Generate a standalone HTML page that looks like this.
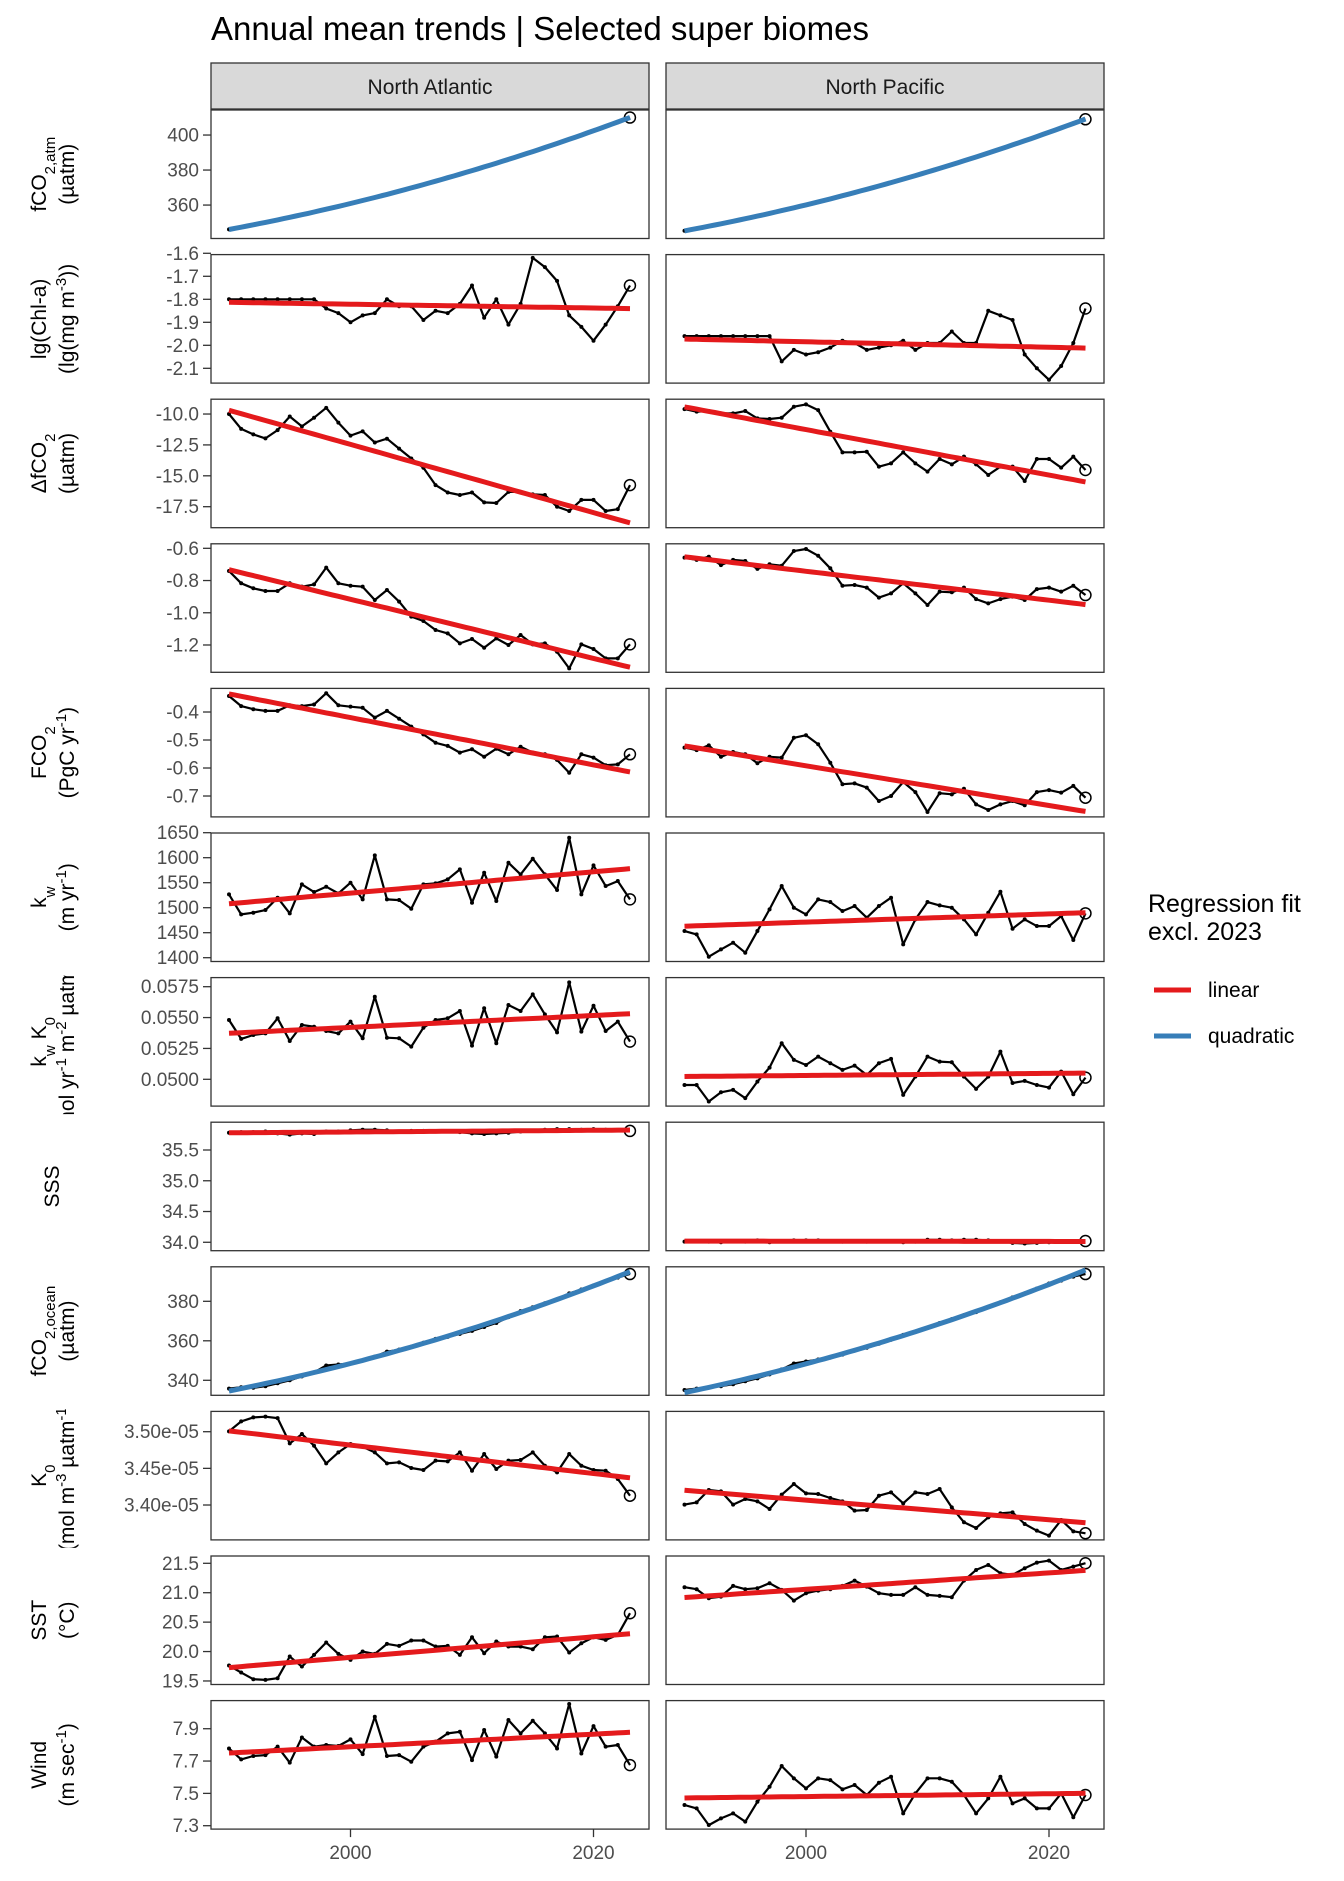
<!DOCTYPE html>
<html><head><meta charset="utf-8"><style>
html,body{margin:0;padding:0;background:#fff;}
svg{display:block;font-family:"Liberation Sans",sans-serif;}
</style></head><body>
<svg id="chart" width="1344" height="1881" xmlns="http://www.w3.org/2000/svg">
<rect width="1344" height="1881" fill="#fff"/>
<text x="211" y="40" font-size="33" fill="#000">Annual mean trends | Selected super biomes</text>
<rect x="211" y="63" width="438" height="46" fill="#d9d9d9" stroke="#333" stroke-width="1.3"/>
<text x="430" y="94" font-size="21" text-anchor="middle" fill="#1a1a1a">North Atlantic</text>
<rect x="666" y="63" width="438" height="46" fill="#d9d9d9" stroke="#333" stroke-width="1.3"/>
<text x="885" y="94" font-size="21" text-anchor="middle" fill="#1a1a1a">North Pacific</text>
<g>
<text x="1148" y="912" font-size="25" fill="#000">Regression fit</text>
<text x="1148" y="940" font-size="25" fill="#000">excl. 2023</text>
<line x1="1154" y1="990" x2="1191" y2="990" stroke="#e41a1c" stroke-width="5"/>
<text x="1208" y="997" font-size="21" fill="#000">linear</text>
<line x1="1154" y1="1036" x2="1191" y2="1036" stroke="#377eb8" stroke-width="5"/>
<text x="1208" y="1043" font-size="21" fill="#000">quadratic</text>
</g>
<defs id="defs"></defs>
</svg>
<script>
const fco2atmNA=[346.1,347.4,348.7,350.1,351.5,353.0,354.5,356.0,357.6,359.2,360.9,362.6,364.3,366.1,367.9,369.8,371.7,373.6,375.6,377.6,379.7,381.8,383.9,386.1,388.3,390.6,392.9,395.2,397.6,400.0,402.4,404.9,407.4,410.0];
const fco2atmNP=[345.3,346.6,347.9,349.3,350.7,352.2,353.7,355.2,356.8,358.4,360.1,361.8,363.5,365.3,367.1,369.0,370.9,372.8,374.8,376.8,378.9,381.0,383.1,385.3,387.5,389.8,392.1,394.4,396.8,399.1,401.5,404.0,406.5,409.0];
const chlNA=[-1.80,-1.80,-1.80,-1.80,-1.80,-1.80,-1.80,-1.80,-1.84,-1.86,-1.90,-1.87,-1.86,-1.80,-1.83,-1.83,-1.89,-1.85,-1.86,-1.82,-1.74,-1.88,-1.80,-1.91,-1.82,-1.62,-1.66,-1.72,-1.87,-1.92,-1.98,-1.91,-1.83,-1.74];
const chlNP=[-1.96,-1.96,-1.96,-1.96,-1.96,-1.96,-1.96,-1.96,-2.07,-2.02,-2.04,-2.03,-2.01,-1.98,-1.99,-2.02,-2.01,-2.00,-1.98,-2.02,-1.99,-1.99,-1.94,-1.99,-1.99,-1.85,-1.87,-1.89,-2.04,-2.10,-2.15,-2.09,-1.99,-1.84];
const dfco2NA=[-10.0,-11.2,-11.65,-11.97,-11.3,-10.2,-11.0,-10.3,-9.5,-10.7,-11.75,-11.4,-12.3,-12.0,-12.8,-13.6,-14.35,-15.75,-16.35,-16.55,-16.35,-17.15,-17.2,-16.3,-16.3,-16.5,-16.55,-17.5,-17.85,-16.95,-16.95,-17.85,-17.7,-15.75];
const dfco2NP=[-9.6,-9.81,-9.76,-9.95,-9.95,-9.76,-10.35,-10.4,-10.3,-9.41,-9.22,-9.68,-11.43,-13.1,-13.1,-13.05,-14.26,-13.99,-13.1,-13.99,-14.66,-13.64,-14.07,-13.45,-14.07,-14.93,-14.26,-14.26,-15.42,-13.64,-13.64,-14.34,-13.45,-14.53];
const fluxdNA=[-0.741,-0.817,-0.848,-0.865,-0.865,-0.817,-0.838,-0.824,-0.72,-0.817,-0.832,-0.838,-0.921,-0.859,-0.931,-1.024,-1.051,-1.107,-1.128,-1.19,-1.163,-1.217,-1.159,-1.2,-1.138,-1.196,-1.19,-1.242,-1.345,-1.196,-1.225,-1.283,-1.283,-1.196];
const fluxdNP=[-0.658,-0.672,-0.652,-0.704,-0.672,-0.679,-0.728,-0.699,-0.708,-0.617,-0.604,-0.646,-0.724,-0.832,-0.828,-0.844,-0.906,-0.88,-0.817,-0.88,-0.952,-0.869,-0.873,-0.844,-0.915,-0.942,-0.915,-0.9,-0.921,-0.853,-0.844,-0.869,-0.832,-0.89];
const fco2fluxNA=[-0.343,-0.379,-0.39,-0.396,-0.396,-0.376,-0.379,-0.373,-0.333,-0.376,-0.381,-0.385,-0.42,-0.396,-0.424,-0.452,-0.48,-0.51,-0.521,-0.545,-0.533,-0.56,-0.531,-0.551,-0.524,-0.545,-0.551,-0.571,-0.617,-0.551,-0.563,-0.59,-0.587,-0.551];
const fco2fluxNP=[-0.527,-0.536,-0.519,-0.56,-0.543,-0.551,-0.583,-0.56,-0.563,-0.492,-0.483,-0.515,-0.581,-0.658,-0.655,-0.67,-0.718,-0.7,-0.65,-0.686,-0.757,-0.69,-0.694,-0.674,-0.73,-0.75,-0.73,-0.718,-0.733,-0.686,-0.679,-0.688,-0.664,-0.706];
const kwNA=[1526.7,1486.7,1490,1495.3,1520,1488.7,1546.7,1531.3,1542,1528.7,1550,1516.7,1604.7,1516.7,1515.3,1498,1546.7,1548.7,1556.7,1576.7,1510,1570,1513.3,1590,1566.7,1598,1566.7,1535.3,1640,1526.7,1584.7,1543.3,1553.3,1516.7];
const kwNP=[1453.3,1446.7,1402,1416.7,1430,1410,1453.3,1496.7,1543.3,1500,1486.7,1516.7,1511.3,1493.3,1503.3,1480,1503.3,1520,1426.7,1476.7,1511.3,1504.7,1500,1476.7,1446.7,1490,1532,1458,1476.7,1463.3,1463.3,1483.3,1435.3,1488.7];
const kwk0NA=[0.0548,0.05327,0.05359,0.05372,0.05494,0.0531,0.0544,0.05426,0.05391,0.05372,0.05467,0.05332,0.05669,0.05337,0.05332,0.05265,0.05418,0.0548,0.05494,0.05553,0.05273,0.05575,0.05292,0.05602,0.05553,0.05688,0.05526,0.0538,0.05785,0.05386,0.05596,0.05391,0.05467,0.05305];
const kwk0NP=[0.04954,0.04954,0.0482,0.04895,0.04914,0.04847,0.04981,0.05095,0.05292,0.05157,0.05116,0.05184,0.0513,0.05076,0.05111,0.05035,0.0513,0.05165,0.04874,0.05022,0.05184,0.05143,0.05138,0.05022,0.04922,0.05022,0.05224,0.0497,0.04987,0.04954,0.04933,0.05062,0.04879,0.05014];
const sssNA=[35.78,35.79,35.79,35.8,35.77,35.75,35.77,35.76,35.8,35.8,35.82,35.83,35.83,35.82,35.8,35.81,35.81,35.8,35.8,35.79,35.77,35.76,35.77,35.78,35.8,35.81,35.83,35.84,35.84,35.83,35.84,35.83,35.82,35.81];
const sssNP=[34.01,34.02,34.01,34.0,34.02,34.01,34.03,34.0,34.02,34.03,34.03,34.03,34.02,34.01,34.02,34.01,34.02,34.02,34.0,34.01,34.04,34.04,34.03,34.04,34.04,34.03,34.02,33.99,33.98,33.99,34.0,34.01,34.01,34.02];
const fco2oceanNA=[335.8,336.5,336.2,337,338.5,340,342,344,347.5,348,348.5,350,352,354.5,355.5,357,359,361,362,363.5,365,367,369,372,375,377,379,381,384,386,388,390,392,393.8];
const fco2oceanNP=[335.1,335.8,336.5,337,338,339.5,341,343,345.5,348.5,349.5,350.5,351.5,353,355,356.5,358.5,360.5,363,364.5,366.5,369,371,373,374.5,377,379.5,382,384,386.5,389,390.5,392.5,393.8];
const k0NA=[3.5005,3.5141,3.5195,3.5205,3.5186,3.4841,3.4968,3.4809,3.4568,3.4718,3.4832,3.4795,3.4718,3.4568,3.4582,3.4505,3.4477,3.4605,3.4595,3.4718,3.4468,3.4695,3.4491,3.4605,3.4614,3.4718,3.4536,3.4445,3.4695,3.4536,3.4477,3.4468,3.4355,3.4127];
const k0NP=[3.4005,3.4036,3.4205,3.4186,3.4005,3.4082,3.405,3.3945,3.4141,3.4286,3.4159,3.415,3.4095,3.405,3.3923,3.3932,3.4127,3.4173,3.4023,3.4173,3.415,3.4218,3.3968,3.3764,3.3686,3.3832,3.3886,3.39,3.3741,3.365,3.3582,3.3795,3.3641,3.3614];
const sstNA=[19.762,19.643,19.53,19.519,19.547,19.915,19.745,19.943,20.153,19.96,19.858,20.0,19.96,20.13,20.096,20.187,20.187,20.085,20.096,19.943,20.243,19.972,20.17,20.085,20.085,20.04,20.243,20.255,19.983,20.142,20.243,20.198,20.283,20.651];
const sstNP=[21.093,21.059,20.906,20.934,21.116,21.059,21.076,21.161,21.048,20.866,20.991,21.036,21.059,21.116,21.206,21.104,20.991,20.963,20.963,21.093,20.963,20.946,20.923,21.206,21.387,21.472,21.331,21.302,21.416,21.512,21.546,21.387,21.444,21.501];
const windNA=[7.778,7.71,7.731,7.737,7.789,7.69,7.846,7.789,7.799,7.793,7.834,7.743,7.974,7.731,7.737,7.696,7.789,7.82,7.871,7.881,7.706,7.892,7.727,7.954,7.871,7.949,7.871,7.778,8.053,7.747,7.916,7.789,7.799,7.675];
const windNP=[7.428,7.407,7.304,7.345,7.376,7.325,7.448,7.541,7.669,7.593,7.531,7.593,7.582,7.525,7.552,7.49,7.566,7.603,7.376,7.5,7.593,7.593,7.572,7.49,7.376,7.469,7.603,7.438,7.469,7.407,7.407,7.5,7.352,7.49];

const firstYear=1990, lastYear=2023;
const xTicks=[2000,2020];
const rowDomains=[[340.9,414.3],[-2.1643,-1.6057],[-19.20,-8.80],[-1.3695,-0.572],[-0.7746,-0.3157],[1392.4,1649.4],[0.047829,0.058237],[33.863,35.952],[332.4,397.47],[3.3524,3.5277],[19.44,21.624],[7.279,8.074]];
const rowTicks=[[360,380,400],[-2.1,-2.0,-1.9,-1.8,-1.7,-1.6],[-17.5,-15,-12.5,-10],[-1.2,-1.0,-0.8,-0.6],[-0.7,-0.6,-0.5,-0.4],[1400,1450,1500,1550,1600,1650],[0.05,0.0525,0.055,0.0575],[34,34.5,35,35.5],[340,360,380],[3.40,3.45,3.50],[19.5,20,20.5,21,21.5],[7.3,7.5,7.7,7.9]];
const rowTickLabels=[["360","380","400"],["-2.1","-2.0","-1.9","-1.8","-1.7","-1.6"],["-17.5","-15.0","-12.5","-10.0"],["-1.2","-1.0","-0.8","-0.6"],["-0.7","-0.6","-0.5","-0.4"],["1400","1450","1500","1550","1600","1650"],["0.0500","0.0525","0.0550","0.0575"],["34.0","34.5","35.0","35.5"],["340","360","380"],["3.40e-05","3.45e-05","3.50e-05"],["19.5","20.0","20.5","21.0","21.5"],["7.3","7.5","7.7","7.9"]];
const rowNames=["fco2-atm","chl-a","delta-fco2","flux-density","fco2-flux","kw","kw-k0","sss","fco2-ocean","k0","sst","wind"];
const rowFits=["quad","lin","lin","lin","lin","lin","lin","lin","quad","lin","lin","lin"];
const seriesNA=[fco2atmNA,chlNA,dfco2NA,fluxdNA,fco2fluxNA,kwNA,kwk0NA,sssNA,fco2oceanNA,k0NA,sstNA,windNA];
const seriesNP=[fco2atmNP,chlNP,dfco2NP,fluxdNP,fco2fluxNP,kwNP,kwk0NP,sssNP,fco2oceanNP,k0NP,sstNP,windNP];
// axis titles: arrays of lines, each line is array of [text, shift]
const rowTitles=[
 [[["fCO",0],["2,atm","sub"]],[["(µatm)",0]]],
 [[["lg(Chl-a)",0]],[["(lg(mg m",0],["-3","sup"],["))",0]]],
 [[["ΔfCO",0],["2","sub"]],[["(µatm)",0]]],
 [],
 [[["FCO",0],["2","sub"]],[["(PgC yr",0],["-1","sup"],[")",0]]],
 [[["k",0],["w","sub"]],[["(m yr",0],["-1","sup"],[")",0]]],
 [[["k",0],["w","sub"],[" K",0],["0","sub"]],[["(mol yr",0],["-1","sup"],[" m",0],["-2","sup"],[" µatm",0],["-1","sup"],[")",0]]],
 [[["SSS",0]]],
 [[["fCO",0],["2,ocean","sub"]],[["(µatm)",0]]],
 [[["K",0],["0","sub"]],[["(mol m",0],["-3","sup"],[" µatm",0],["-1","sup"],[")",0]]],
 [[["SST",0]],[["(°C)",0]]],
 [[["Wind",0]],[["(m sec",0],["-1","sup"],[")",0]]]
];

const NS="http://www.w3.org/2000/svg";
const svg=document.getElementById("chart");
const defs=document.getElementById("defs");
const panelLeft=[211,666], panelW=438;
const rowTop0=110, rowPitch=144.6, rowH=128.5;
function xScale(p,yr){return 229+455.5*p+(yr-1990)*12.15;}
function yScale(r,v){const d=rowDomains[r];const top=rowTop0+rowPitch*r;return top+rowH-(v-d[0])/(d[1]-d[0])*rowH;}
function mk(tag,parent){const e=document.createElementNS(NS,tag);(parent||svg).appendChild(e);return e;}
function set(e,o){for(const k in o)e.setAttribute(k,o[k]);}
function linFit(xs,ys){const n=xs.length;let mx=0,my=0;for(let i=0;i<n;i++){mx+=xs[i];my+=ys[i];}mx/=n;my/=n;let sxy=0,sxx=0;for(let i=0;i<n;i++){sxy+=(xs[i]-mx)*(ys[i]-my);sxx+=(xs[i]-mx)**2;}const b=sxy/sxx;return t=>my+b*(t-mx);}
function quadFit(xs,ys){const n=xs.length;let m=0;for(const x of xs)m+=x;m/=n;let S=[0,0,0,0,0],T=[0,0,0];for(let i=0;i<n;i++){const u=xs[i]-m;let p=1;for(let k=0;k<5;k++){S[k]+=p;if(k<3)T[k]+=p*ys[i];p*=u;}}
 const A=[[S[0],S[1],S[2],T[0]],[S[1],S[2],S[3],T[1]],[S[2],S[3],S[4],T[2]]];
 for(let c=0;c<3;c++){for(let r=c+1;r<3;r++){const f=A[r][c]/A[c][c];for(let k=c;k<4;k++)A[r][k]-=f*A[c][k];}}
 const s=[0,0,0];for(let r=2;r>=0;r--){let v=A[r][3];for(let k=r+1;k<3;k++)v-=A[r][k]*s[k];s[r]=v/A[r][r];}
 return t=>{const u=t-m;return s[0]+s[1]*u+s[2]*u*u;};}

for(let r=0;r<12;r++){
 const top=rowTop0+rowPitch*r;
 const cp=mk("clipPath",defs);set(cp,{id:"clip"+r});
 const cr=mk("rect",cp);set(cr,{x:0,y:top-2,width:140,height:rowH+10});
 // axis title
 const tg=mk("g");set(tg,{"clip-path":"url(#clip"+r+")"});
 
 
 const lines=rowTitles[r];
 const cy=top+rowH/2;
 const xs= lines.length===2?[39,67]:[52];
 lines.forEach((ln,li)=>{
  const t=mk("text",tg);set(t,{x:0,y:0,"font-size":21,"text-anchor":"middle",fill:"#000",transform:"translate("+(xs[li]+7)+","+cy+") rotate(-90)"});
  ln.forEach(seg=>{const ts=mk("tspan",t);ts.textContent=seg[0];
   if(seg[1]==="sub"){set(ts,{"baseline-shift":"sub","font-size":15});}
   else if(seg[1]==="sup"){set(ts,{"baseline-shift":"super","font-size":15});}
  });
 });
 // y ticks
 rowTicks[r].forEach((tv,ti)=>{const y=yScale(r,tv);
  const tl=mk("line");set(tl,{x1:203,x2:211,y1:y,y2:y,stroke:"#333","stroke-width":1.3});
  
  
  const tt=mk("text");set(tt,{x:199,y:y+6.5,"font-size":19,"text-anchor":"end",fill:"#4d4d4d"});tt.textContent=rowTickLabels[r][ti];
  
  
 });
 [seriesNA[r],seriesNP[r]].forEach((vals,p)=>{
  const pr=mk("rect");set(pr,{x:panelLeft[p],y:top,width:panelW,height:rowH,fill:"#fff",stroke:"#333","stroke-width":1.3});
  
  
  const g=mk("g");
  
  
  let pts=vals.map((v,i)=>xScale(p,firstYear+i).toFixed(1)+","+yScale(r,v).toFixed(1)).join(" ");
  const pl=mk("polyline",g);set(pl,{points:pts,fill:"none",stroke:"#000","stroke-width":2.2,"stroke-linejoin":"round"});
  
  
  vals.forEach((v,i)=>{if(i===vals.length-1)return;const c=mk("circle",g);set(c,{cx:xScale(p,firstYear+i),cy:yScale(r,v),r:2,fill:"#000"});
   
   });
  const last=vals[vals.length-1];
  const lc=mk("circle",g);set(lc,{cx:xScale(p,lastYear),cy:yScale(r,last),r:5.5,fill:"none",stroke:"#000","stroke-width":1.5});
  
  
  const xsF=[],ysF=[];for(let i=0;i<vals.length-1;i++){xsF.push(firstYear+i);ysF.push(vals[i]);}
  let f,col;
  if(rowFits[r]==="quad"){f=quadFit(xsF,ysF);col="#377eb8";}else{f=linFit(xsF,ysF);col="#e41a1c";}
  const fp=[];for(let t=firstYear;t<=lastYear+0.001;t+=0.5)fp.push(xScale(p,t).toFixed(1)+","+yScale(r,f(t)).toFixed(1));
  const fl=mk("polyline",g);set(fl,{points:fp.join(" "),fill:"none",stroke:col,"stroke-width":5,"stroke-linecap":"butt"});
  
  
 });
}
// x axis
const bottom=rowTop0+rowPitch*11+rowH;
[0,1].forEach(p=>{xTicks.forEach(yr=>{const x=xScale(p,yr);
 const l=mk("line");set(l,{x1:x,x2:x,y1:bottom,y2:bottom+8,stroke:"#333","stroke-width":1.3});
 
 
 const t=mk("text");set(t,{x:x,y:bottom+30,"font-size":19,"text-anchor":"middle",fill:"#4d4d4d"});t.textContent=String(yr);
 
 
});});
</script>
</body></html>
